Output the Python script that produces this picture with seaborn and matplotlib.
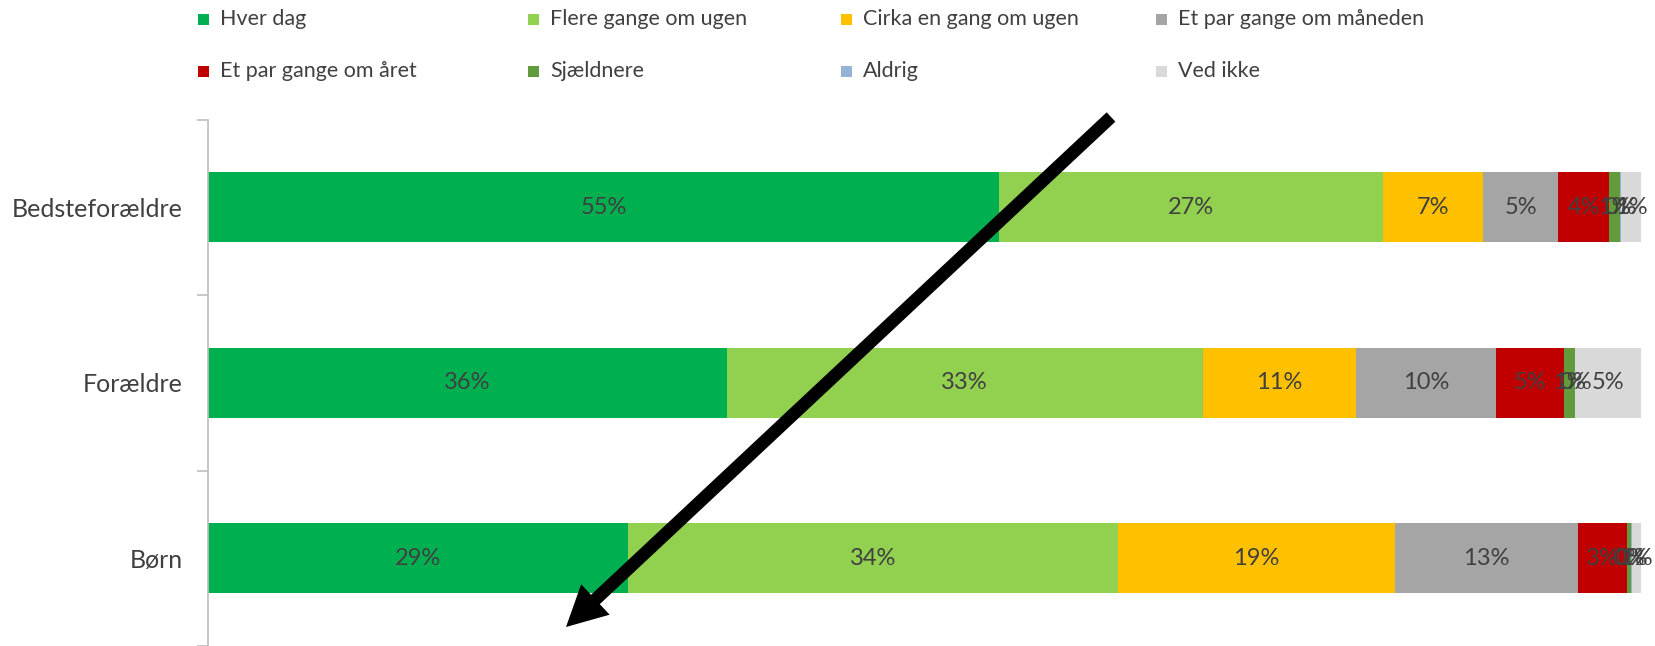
import matplotlib
matplotlib.use("Agg")
import matplotlib.pyplot as plt
import seaborn as sns
import pandas as pd
import numpy as np
from matplotlib.patches import Rectangle

sns.set_theme(style="white")
plt.rcParams['font.family'] = ['Lato', 'DejaVu Sans']

categories = ["Bedsteforældre", "Forældre", "Børn"]
series = ["Hver dag", "Flere gange om ugen", "Cirka en gang om ugen", "Et par gange om måneden",
          "Et par gange om året", "Sjældnere", "Aldrig", "Ved ikke"]
hver_dag = [55.2, 36.2, 29.3]
flere_gange = [26.8, 33.2, 34.2]
cirka_en_gang = [7.0, 10.7, 19.3]
par_maaneden = [5.2, 9.8, 12.8]
par_aaret = [3.6, 4.7, 3.4]
sjaeldnere = [0.7, 0.8, 0.3]
aldrig = [0.1, 0.0, 0.1]
ved_ikke = [1.4, 4.6, 0.6]
colors = ["#00B050", "#92D050", "#FFC000", "#A5A5A5", "#C00000", "#629B3B", "#95B3D7", "#D9D9D9"]

values = [hver_dag, flere_gange, cirka_en_gang, par_maaneden, par_aaret, sjaeldnere, aldrig, ved_ikke]
df = pd.DataFrame({s: v for s, v in zip(series, values)}, index=categories)
cum = df.cumsum(axis=1)

W, H = 1655, 646
fig = plt.figure(figsize=(W / 100, H / 100), dpi=100)
ax = fig.add_axes([208 / W, 0.0, (1641 - 208) / W, (646.5 - 120) / H])

for i in range(len(series) - 1, -1, -1):
    d = pd.DataFrame({"cat": categories, "val": cum[series[i]].values})
    sns.barplot(data=d, y="cat", x="val", orient="h", color=colors[i], width=0.4,
                saturation=1, ax=ax, edgecolor="none", linewidth=0)

txt_color = "#404040"
for j, cat in enumerate(categories):
    left = 0.0
    for i, s in enumerate(series):
        v = df.loc[cat, s]
        ax.text(left + v / 2, j, f"{v:.0f}%", ha="center", va="center",
                fontsize=17, color=txt_color)
        left += v

ax.set_xlim(0, 100)
ax.set_ylim(2.5, -0.5)
ax.set_xlabel("")
ax.set_ylabel("")
ax.set_xticks([])
for sp in ["top", "right", "bottom"]:
    ax.spines[sp].set_visible(False)
ax.spines["left"].set_color("#BFBFBF")
ax.spines["left"].set_linewidth(1.2)
ax.set_yticks(range(len(categories)))
ax.set_yticklabels(categories, fontsize=18, color="#404040")
ax.set_yticks([-0.5, 0.5, 1.5, 2.5], minor=True)
ax.tick_params(axis="y", which="major", length=0, pad=18)
ax.tick_params(axis="y", which="minor", length=8, width=1.2, color="#BFBFBF", direction="out", left=True)

# legend (manual grid, 4 columns x 2 rows)
col_x = [198, 528, 841, 1156]
row_y = [19, 71]
for k, s in enumerate(series):
    r, c = divmod(k, 4)
    x0 = col_x[c]
    y0 = row_y[r]
    fig.patches.append(Rectangle((x0 / W, 1 - (y0 + 5.5) / H), 11 / W, 11 / H,
                                 transform=fig.transFigure, facecolor=colors[k],
                                 edgecolor="none"))
    fig.text((x0 + 22) / W, 1 - y0 / H, s, ha="left", va="center", fontsize=15.5, color=txt_color)

# overlay arrow
ax.annotate("", xy=(566 / W, 1 - 627 / H), xytext=(1111 / W, 1 - 117 / H),
            xycoords="figure fraction", textcoords="figure fraction",
            arrowprops=dict(arrowstyle="simple,head_length=2.9,head_width=3.0,tail_width=0.92",
                            mutation_scale=10, lw=0, color="black",
                            shrinkA=0, shrinkB=0), annotation_clip=False)

fig.savefig("out.png", dpi=100)
